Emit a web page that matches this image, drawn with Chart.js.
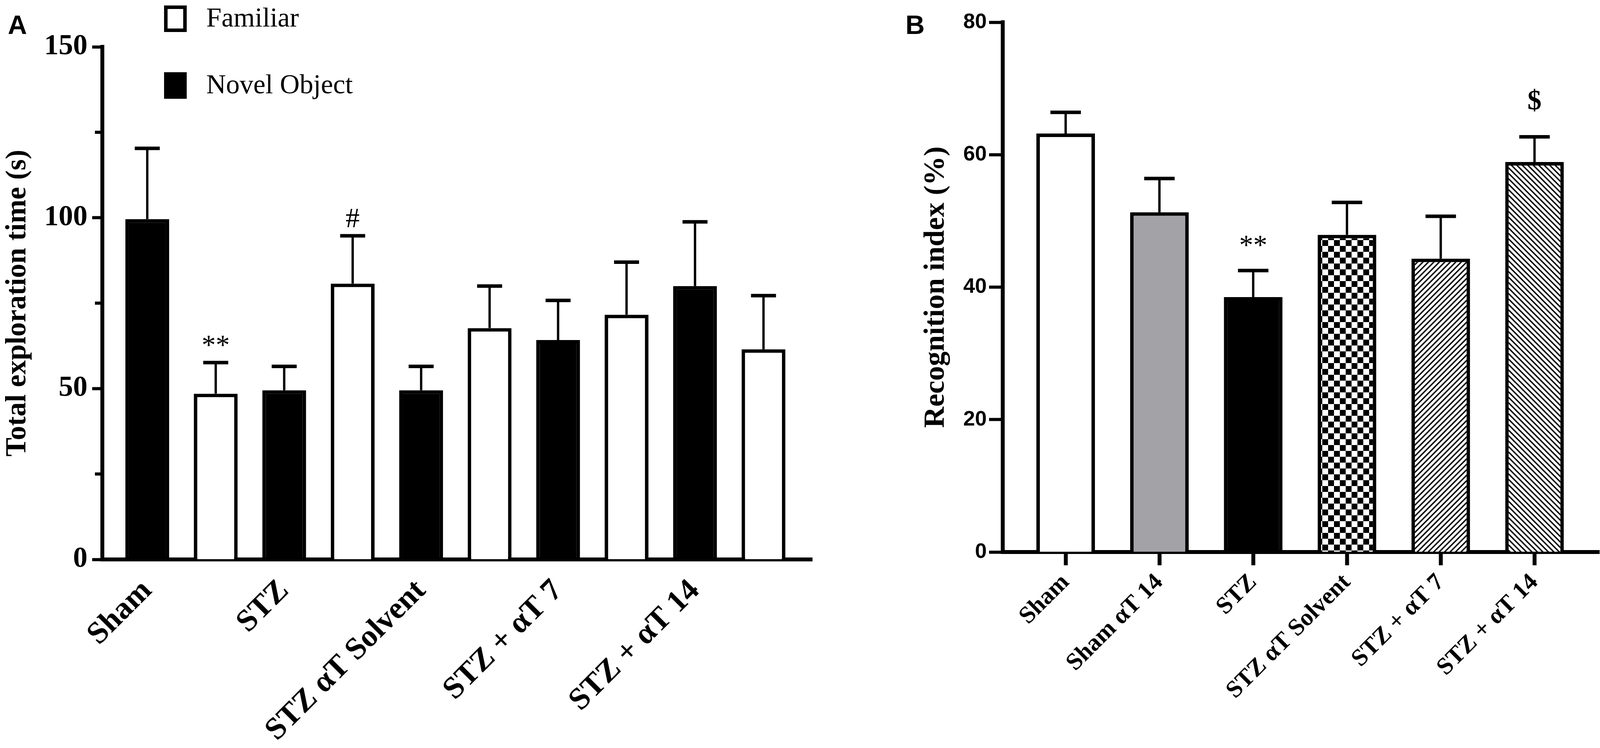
<!DOCTYPE html>
<html>
<head>
<meta charset="utf-8">
<script src="https://cdn.jsdelivr.net/npm/chart.js@4.4.1/dist/chart.umd.min.js"></script>
<style>
  html, body { margin: 0; padding: 0; background: #fff; }
  #wrap { position: relative; width: 4109px; height: 1916px; overflow: hidden; background: #fff; }
  canvas { position: absolute; top: 0; }
  #panelA { left: 0; }
  #panelB { left: 2200px; }
</style>
</head>
<body>
<div id="wrap">
  <canvas id="panelA" width="2200" height="1916"></canvas>
  <canvas id="panelB" width="1909" height="1916"></canvas>
</div>
<script>
// ---- panel A : total exploration time ----
var groupsA = ['Sham', 'STZ', 'STZ \u03b1T Solvent', 'STZ + \u03b1T 7', 'STZ + \u03b1T 14'];
var groupSlotsA = [0, 2, 4, 6, 8];
// bar slots left to right, null where the slot holds the other series
var familiarA    = [null, 48.5, null, 80.7, null, 67.7, null, 71.6, null, 61.5];
var familiarErrA = [null,  9.1, null, 14.0, null, 12.3, null, 15.4, null, 15.7];
var novelA       = [99.6, null, 49.5, null, 49.5, null, 64.2, null, 80.0, null];
var novelErrA    = [20.7, null,  7.0, null,  7.0, null, 11.6, null, 18.8, null];
var marksA       = ['', '**', '', '#', '', '', '', '', '', ''];
var minorTicksA  = [25, 75, 125];

// ---- panel B : recognition index ----
var groupsB   = ['Sham', 'Sham \u03b1T 14', 'STZ', 'STZ \u03b1T Solvent', 'STZ + \u03b1T 7', 'STZ + \u03b1T 14'];
var indexB    = [63.2, 51.3, 38.5, 47.9, 44.3, 58.9];
var indexErrB = [ 3.2,  5.1,  4.0,  4.9,  6.4,  3.8];
var marksB    = ['', '', '**', '', '', '$'];

var SERIF = "'Liberation Serif', 'Times New Roman', serif";
var SANS = "'Liberation Sans', Arial, sans-serif";
Chart.defaults.color = '#000';
Chart.defaults.font.family = SERIF;

function slots(values) {
  return values.map(function (v, i) { return { x: i, y: v }; });
}

function makePattern(kind) {
  var c = document.createElement('canvas');
  var s = kind === 'checker' ? 30 : 14;
  c.width = s; c.height = s;
  var g = c.getContext('2d');
  g.fillStyle = '#fff';
  g.fillRect(0, 0, s, s);
  g.fillStyle = '#000';
  g.strokeStyle = '#000';
  if (kind === 'checker') {
    g.fillRect(0, 0, s / 2, s / 2);
    g.fillRect(s / 2, s / 2, s / 2, s / 2);
  } else {
    g.lineWidth = 3.6;
    g.beginPath();
    if (kind === 'up') {
      g.moveTo(-2, s + 2); g.lineTo(s + 2, -2);
      g.moveTo(-2, 2); g.lineTo(2, -2);
      g.moveTo(s - 2, s + 2); g.lineTo(s + 2, s - 2);
    } else {
      g.moveTo(-2, -2); g.lineTo(s + 2, s + 2);
      g.moveTo(s - 2, -2); g.lineTo(s + 2, 2);
      g.moveTo(-2, s - 2); g.lineTo(2, s + 2);
    }
    g.stroke();
  }
  return g.createPattern(c, 'repeat');
}

// error caps (upward SEM) and significance marks
var errorBars = {
  id: 'errorBars',
  afterDatasetsDraw: function (chart, args, opts) {
    var ctx = chart.ctx;
    var yScale = chart.scales.y;
    ctx.save();
    ctx.strokeStyle = '#000';
    ctx.fillStyle = '#000';
    chart.data.datasets.forEach(function (ds, di) {
      chart.getDatasetMeta(di).data.forEach(function (bar, i) {
        var v = ds.data[i].y, e = ds.errors[i];
        if (v == null || e == null) return;
        var top = yScale.getPixelForValue(v + e);
        ctx.lineWidth = opts.stem;
        ctx.beginPath(); ctx.moveTo(bar.x, bar.y); ctx.lineTo(bar.x, top); ctx.stroke();
        ctx.lineWidth = opts.cap;
        ctx.beginPath();
        ctx.moveTo(bar.x - opts.capWidth / 2, top);
        ctx.lineTo(bar.x + opts.capWidth / 2, top);
        ctx.stroke();
        var m = opts.marks[i];
        if (m) {
          var bold = opts.boldMarks.indexOf(m) >= 0;
          ctx.font = (bold ? 'bold ' : '') + opts.markSize + 'px ' + SERIF;
          ctx.textAlign = 'center';
          ctx.textBaseline = 'alphabetic';
          ctx.fillText(m, bar.x, top - (bold ? opts.boldGap : opts.markGap));
        }
      });
    });
    ctx.restore();
  }
};

// panel letter, legend keys and minor y ticks
var decor = {
  id: 'decor',
  afterDraw: function (chart, args, opts) {
    var ctx = chart.ctx;
    ctx.save();
    ctx.fillStyle = '#000';
    ctx.strokeStyle = '#000';
    ctx.font = 'bold 68px ' + SANS;
    ctx.textAlign = 'left';
    ctx.textBaseline = 'alphabetic';
    ctx.fillText(opts.letter, opts.letterX, 87);

    var yScale = chart.scales.y;
    ctx.lineWidth = 8;
    (opts.minor || []).forEach(function (v) {
      var py = yScale.getPixelForValue(v);
      ctx.beginPath();
      ctx.moveTo(chart.chartArea.left - 19, py);
      ctx.lineTo(chart.chartArea.left, py);
      ctx.stroke();
    });

    if (opts.legend) {
      chart.data.datasets.forEach(function (ds, k) {
        var top = 14 + k * 171;
        if (ds.backgroundColor === '#000') {
          ctx.fillRect(420, top, 58, 68);
        } else {
          ctx.lineWidth = 9;
          ctx.strokeRect(424.5, top + 4.5, 49, 59);
        }
        ctx.font = '70px ' + SERIF;
        ctx.textBaseline = 'middle';
        ctx.fillText(ds.label, 528, top + 36);
      });
    }
    ctx.restore();
  }
};

new Chart(document.getElementById('panelA'), {
  type: 'bar',
  data: {
    datasets: [
      {
        label: 'Familiar',
        data: slots(familiarA),
        errors: familiarErrA,
        backgroundColor: '#fff',
        borderColor: '#000',
        borderWidth: 9,
        grouped: false,
        categoryPercentage: 1,
        barPercentage: 0.64
      },
      {
        label: 'Novel Object',
        data: slots(novelA),
        errors: novelErrA,
        backgroundColor: '#000',
        borderColor: '#000',
        borderWidth: 9,
        grouped: false,
        categoryPercentage: 1,
        barPercentage: 0.64
      }
    ]
  },
  options: {
    responsive: false,
    animation: false,
    devicePixelRatio: 1,
    events: [],
    layout: { padding: { left: 0, top: 120, right: 121, bottom: 0 } },
    plugins: {
      legend: { display: false },
      tooltip: { enabled: false },
      errorBars: { stem: 6, cap: 9, capWidth: 64, marks: marksA, boldMarks: [], markSize: 72, markGap: 22, boldGap: 22 },
      decor: { letter: 'A', letterX: 20, minor: minorTicksA, legend: true }
    },
    scales: {
      x: {
        type: 'linear',
        offset: false,
        min: -0.656,
        max: 9.71,
        afterBuildTicks: function (scale) {
          scale.ticks = groupSlotsA.map(function (v) { return { value: v }; });
        },
        afterFit: function (scale) {
          scale.height = 483;
          scale.paddingLeft = 0;
          scale.paddingRight = 0;
        },
        grid: { display: false, drawTicks: false, offset: false },
        border: { display: true, color: '#000', width: 10 },
        ticks: {
          autoSkip: false,
          minRotation: 45,
          maxRotation: 45,
          padding: 34,
          font: { family: SERIF, size: 80, weight: 'bold' },
          callback: function (value, index) { return groupsA[index]; }
        }
      },
      y: {
        min: 0,
        max: 150,
        afterFit: function (scale) { scale.width = 262; },
        grid: { drawOnChartArea: false, drawTicks: true, tickLength: 26, tickWidth: 8, tickColor: '#000' },
        border: { display: true, color: '#000', width: 10 },
        ticks: {
          stepSize: 50,
          padding: 12,
          font: { family: SERIF, size: 74, weight: 'bold' }
        },
        title: {
          display: true,
          text: 'Total exploration time (s)',
          padding: { top: 2, bottom: 4 },
          font: { family: SERIF, size: 73, weight: 'bold' }
        }
      }
    }
  },
  plugins: [errorBars, decor]
});

new Chart(document.getElementById('panelB'), {
  type: 'bar',
  data: {
    datasets: [
      {
        label: 'Recognition index',
        data: slots(indexB),
        errors: indexErrB,
        backgroundColor: ['#fff', '#a3a3a7', '#000', makePattern('checker'), makePattern('up'), makePattern('down')],
        borderColor: '#000',
        borderWidth: 9,
        grouped: false,
        categoryPercentage: 1,
        barPercentage: 0.625
      }
    ]
  },
  options: {
    responsive: false,
    animation: false,
    devicePixelRatio: 1,
    events: [],
    layout: { padding: { left: 150, top: 57, right: 15, bottom: 0 } },
    plugins: {
      legend: { display: false },
      tooltip: { enabled: false },
      errorBars: { stem: 6, cap: 9, capWidth: 78, marks: marksB, boldMarks: ['$'], markSize: 72, markGap: 42, boldGap: 70 },
      decor: { letter: 'B', letterX: 118, legend: false }
    },
    scales: {
      x: {
        type: 'linear',
        offset: false,
        min: -0.671,
        max: 5.69,
        afterBuildTicks: function (scale) {
          scale.ticks = groupsB.map(function (g, i) { return { value: i }; });
        },
        afterFit: function (scale) {
          scale.height = 502;
          scale.paddingLeft = 0;
          scale.paddingRight = 0;
        },
        grid: { display: true, offset: false, drawOnChartArea: false, drawTicks: true, tickLength: 34, tickWidth: 10, tickColor: '#000' },
        border: { display: true, color: '#000', width: 10 },
        ticks: {
          autoSkip: false,
          minRotation: 45,
          maxRotation: 45,
          padding: 8,
          font: { family: SERIF, size: 62, weight: 'bold' },
          callback: function (value, index) { return groupsB[index]; }
        }
      },
      y: {
        min: 0,
        max: 80,
        afterFit: function (scale) { scale.width = 217; },
        grid: { drawOnChartArea: false, drawTicks: true, tickLength: 35, tickWidth: 8, tickColor: '#000' },
        border: { display: true, color: '#000', width: 10 },
        ticks: {
          stepSize: 20,
          padding: 6,
          font: { family: SANS, size: 54, weight: 'bold' }
        },
        title: {
          display: true,
          text: 'Recognition index (%)',
          padding: { top: 2, bottom: 4 },
          font: { family: SERIF, size: 75, weight: 'bold' }
        }
      }
    }
  },
  plugins: [errorBars, decor]
});
</script>
</body>
</html>
